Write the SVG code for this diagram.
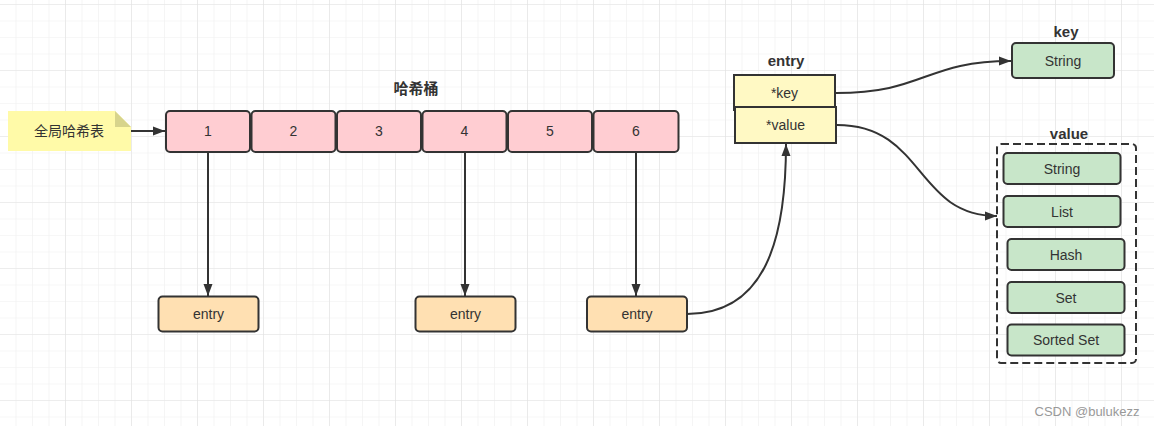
<svg xmlns="http://www.w3.org/2000/svg" width="1154" height="426" viewBox="0 0 1154 426">
<defs>
<pattern id="minor" x="-1" y="4" width="16.5" height="16.5" patternUnits="userSpaceOnUse">
<path d="M0,0 V16.5 M0,0 H16.5" stroke="#efefef" stroke-width="1.2" fill="none"/>
</pattern>
<pattern id="major" x="-1" y="4" width="66" height="66" patternUnits="userSpaceOnUse">
<path d="M0,0 V66 M0,0 H66" stroke="#e3e3e3" stroke-width="1.2" fill="none"/>
</pattern>
<marker id="arr" viewBox="0 0 12 10" refX="12" refY="5" markerWidth="12" markerHeight="10" markerUnits="userSpaceOnUse" orient="auto">
<path d="M0,0.5 L12,5 L0,9.5 Z" fill="#333"/>
</marker>
</defs>
<style>
.t{font-family:"Liberation Sans","Noto Sans CJK SC",Arial,sans-serif;font-size:14px;fill:#333;text-anchor:middle;dominant-baseline:central}
.b{font-weight:bold;font-size:15px}
.bucket{fill:#ffcdd2;stroke:#333;stroke-width:2}
.entry{fill:#ffe0b2;stroke:#333;stroke-width:2}
.field{fill:#fff9c4;stroke:#333;stroke-width:2}
.type{fill:#c8e6c9;stroke:#333;stroke-width:2}
.conn{fill:none;stroke:#333;stroke-width:2;marker-end:url(#arr)}
</style>
<rect width="1154" height="426" fill="#fff"/>
<rect width="1154" height="426" fill="url(#minor)"/>
<rect width="1154" height="426" fill="url(#major)"/>

<g id="note">
<path d="M8,111 H115 L131,127 V151 H8 Z" fill="#fffaa8"/>
<path d="M115,111 L131,127 H115 Z" fill="#d7d48c"/>
<text class="t" x="69" y="131">全局哈希表</text>
</g>

<text id="bucket-title" class="t b" x="416" y="88">哈希桶</text>
<g id="bucket1"><rect class="bucket" x="166" y="111" width="84" height="41" rx="4"/><text class="t" x="208" y="131">1</text></g>
<g id="bucket2"><rect class="bucket" x="251.5" y="111" width="84" height="41" rx="4"/><text class="t" x="293.5" y="131">2</text></g>
<g id="bucket3"><rect class="bucket" x="337" y="111" width="84" height="41" rx="4"/><text class="t" x="379" y="131">3</text></g>
<g id="bucket4"><rect class="bucket" x="422.5" y="111" width="84" height="41" rx="4"/><text class="t" x="464.5" y="131">4</text></g>
<g id="bucket5"><rect class="bucket" x="508" y="111" width="84" height="41" rx="4"/><text class="t" x="550" y="131">5</text></g>
<g id="bucket6"><rect class="bucket" x="593.5" y="111" width="85" height="41" rx="4"/><text class="t" x="636" y="131">6</text></g>

<g id="entry1"><rect class="entry" x="158.5" y="296.5" width="100" height="35" rx="4"/><text class="t" x="208.5" y="314">entry</text></g>
<g id="entry2"><rect class="entry" x="415.5" y="296.5" width="100" height="35" rx="4"/><text class="t" x="465.5" y="314">entry</text></g>
<g id="entry3"><rect class="entry" x="587" y="296.5" width="100" height="35" rx="4"/><text class="t" x="637" y="314">entry</text></g>

<g id="entry-struct">
<text class="t b" x="786" y="60">entry</text>
<rect class="field" x="734" y="75" width="101" height="35"/>
<text class="t" x="784.5" y="92.5">*key</text>
<rect class="field" x="735" y="107" width="101" height="36"/>
<text class="t" x="785.5" y="125">*value</text>
</g>

<g id="key-type">
<text class="t b" x="1066" y="31">key</text>
<rect class="type" x="1012" y="43" width="102" height="35" rx="4"/>
<text class="t" x="1063" y="60.5">String</text>
</g>

<g id="value-types">
<text class="t b" x="1069" y="133">value</text>
<rect x="997" y="144" width="139" height="219" rx="4" fill="none" stroke="#333" stroke-width="2" stroke-dasharray="8 4"/>
<rect class="type" x="1003.5" y="153" width="117" height="31" rx="4"/>
<text class="t" x="1062" y="168.5">String</text>
<rect class="type" x="1003.5" y="196" width="117" height="31" rx="4"/>
<text class="t" x="1062" y="211.5">List</text>
<rect class="type" x="1007.5" y="239" width="117" height="31" rx="4"/>
<text class="t" x="1066" y="254.5">Hash</text>
<rect class="type" x="1007.5" y="282" width="117" height="31" rx="4"/>
<text class="t" x="1066" y="297.5">Set</text>
<rect class="type" x="1007.5" y="324.5" width="117" height="31" rx="4"/>
<text class="t" x="1066" y="340">Sorted Set</text>
</g>

<g id="connectors">
<path class="conn" d="M131,131 H165"/>
<path class="conn" d="M208,152 V296"/>
<path class="conn" d="M465,152 V296"/>
<path class="conn" d="M636,152 V296"/>
<path class="conn" d="M687,314 C765,314 786,240 786,144"/>
<path class="conn" d="M836,93 C925,93 925,61 1011,61"/>
<path class="conn" d="M837,125 C925,125 915,216 997,216"/>
</g>

<text class="t" x="1087" y="411" style="font-size:13px;fill:#999">CSDN @bulukezz</text>
</svg>
